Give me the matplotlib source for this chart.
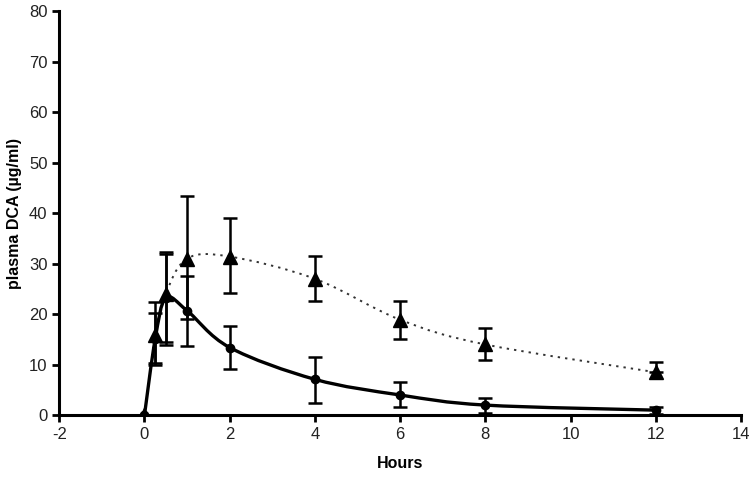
import numpy as np
import matplotlib.pyplot as plt
from matplotlib.path import Path
from matplotlib.patches import PathPatch

plt.rcParams['font.family'] = ['Liberation Sans', 'DejaVu Sans']
plt.rcParams['axes.unicode_minus'] = False

# time points (hours)
hours = [0, 0.25, 0.5, 1, 2, 4, 6, 8, 12]

# triangles, dotted line
tri_mean = [0, 15.8, 24.0, 31.0, 31.4, 27.0, 18.9, 14.0, 8.5]
tri_lo = [0, 10.3, 14.5, 19.0, 24.2, 22.6, 15.0, 10.9, 8.5]
tri_hi = [0, 20.2, 32.3, 43.4, 39.0, 31.6, 22.6, 17.2, 10.5]

# circles, solid line
circ_mean = [0, 15.0, 23.2, 20.7, 13.4, 7.1, 4.0, 2.0, 1.0]
circ_lo = [0, 9.9, 13.9, 13.7, 9.1, 2.4, 1.6, 0.5, 0.3]
circ_hi = [0, 22.4, 32.0, 27.5, 17.6, 11.5, 6.5, 3.4, 1.6]


def smooth_path(x, y):
    # excel-style smoothed line as cubic bezier segments
    x = np.asarray(x, float)
    y = np.asarray(y, float)
    verts = [(x[0], y[0])]
    codes = [Path.MOVETO]
    n = len(x)
    for i in range(n - 1):
        p0 = np.array([x[max(i - 1, 0)], y[max(i - 1, 0)]])
        p1 = np.array([x[i], y[i]])
        p2 = np.array([x[i + 1], y[i + 1]])
        p3 = np.array([x[min(i + 2, n - 1)], y[min(i + 2, n - 1)]])
        c1 = p1 + (p2 - p0) / 6.0
        c2 = p2 - (p3 - p1) / 6.0
        verts += [tuple(c1), tuple(c2), tuple(p2)]
        codes += [Path.CURVE4] * 3
    return Path(verts, codes)


fig = plt.figure(figsize=(7.5, 4.8), dpi=100)
ax = fig.add_axes([0.079, 0.135, 0.909, 0.842])

ax.add_patch(PathPatch(smooth_path(hours, tri_mean), fill=False,
                       edgecolor='#333333', lw=1.4, linestyle=(0, (1.2, 2.6))))
ax.add_patch(PathPatch(smooth_path(hours, circ_mean), fill=False,
                       edgecolor='black', lw=2.4))

t_err = [np.array(tri_mean) - np.array(tri_lo), np.array(tri_hi) - np.array(tri_mean)]
c_err = [np.array(circ_mean) - np.array(circ_lo), np.array(circ_hi) - np.array(circ_mean)]

ax.errorbar(hours, circ_mean, yerr=c_err, fmt='o', color='black', ms=6,
            ecolor='black', elinewidth=1.8, capsize=5, capthick=1.8, zorder=3)
ax.errorbar(hours, tri_mean, yerr=t_err, fmt='^', color='black', ms=10,
            ecolor='black', elinewidth=1.8, capsize=5, capthick=1.8, zorder=4)

ax.set_xlim(-2, 14)
ax.set_ylim(0, 80)
ax.set_xticks(range(-2, 15, 2))
ax.set_yticks(range(0, 81, 10))

for s in ['top', 'right']:
    ax.spines[s].set_visible(False)
for s in ['left', 'bottom']:
    ax.spines[s].set_linewidth(2.2)
ax.tick_params(width=2, length=5, labelsize=12, color='black', labelcolor='#222222')

ax.set_xlabel('Hours', fontsize=11.5, fontweight='bold', labelpad=10)
ax.set_ylabel('plasma DCA (\u00b5g/ml)', fontsize=11.5, fontweight='bold', labelpad=5)

fig.savefig('out.png', dpi=100)
